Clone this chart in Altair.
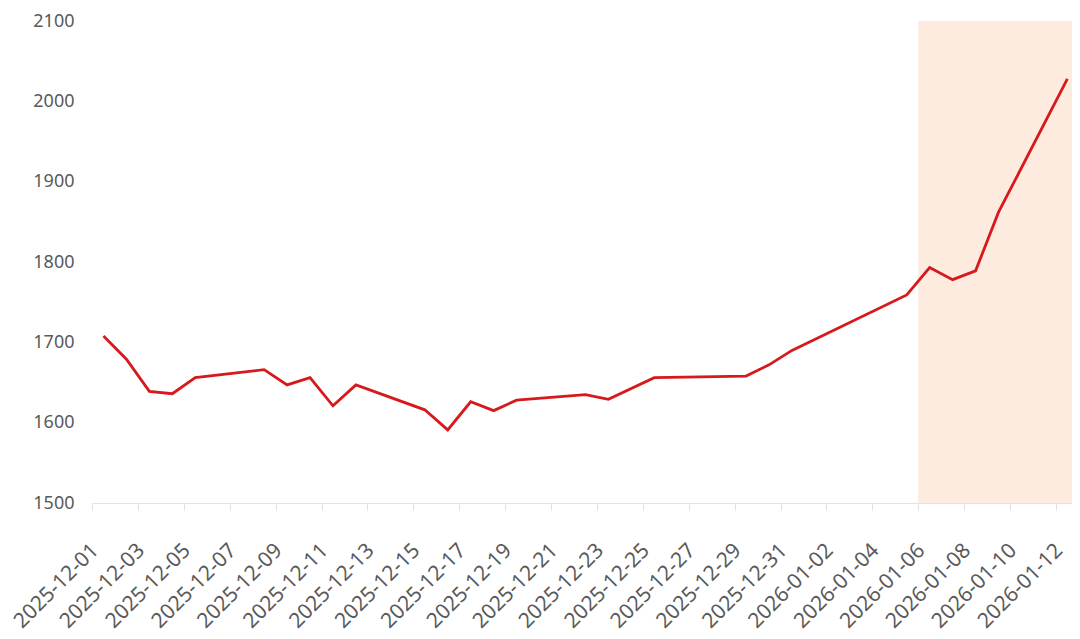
import altair as alt
import pandas as pd

# --- data ---
dates = [
    "2025-12-01", "2025-12-02", "2025-12-03", "2025-12-04", "2025-12-05",
    "2025-12-08", "2025-12-09", "2025-12-10", "2025-12-11", "2025-12-12",
    "2025-12-15", "2025-12-16", "2025-12-17", "2025-12-18", "2025-12-19",
    "2025-12-22", "2025-12-23", "2025-12-25", "2025-12-29", "2025-12-30",
    "2025-12-31", "2026-01-05", "2026-01-06", "2026-01-07", "2026-01-08",
    "2026-01-09", "2026-01-12",
]
values = [
    1708, 1679, 1639, 1636, 1656,
    1666, 1647, 1656, 1621, 1647,
    1616, 1591, 1626, 1615, 1628,
    1635, 1629, 1656, 1658, 1672,
    1690, 1759, 1793, 1778, 1789,
    1862, 2028,
]
tick_labels = [
    "2025-12-01", "2025-12-03", "2025-12-05", "2025-12-07", "2025-12-09",
    "2025-12-11", "2025-12-13", "2025-12-15", "2025-12-17", "2025-12-19",
    "2025-12-21", "2025-12-23", "2025-12-25", "2025-12-27", "2025-12-29",
    "2025-12-31", "2026-01-02", "2026-01-04", "2026-01-06", "2026-01-08",
    "2026-01-10", "2026-01-12",
]
y_ticks = [1500, 1600, 1700, 1800, 1900, 2000, 2100]
x_start, x_end = "2025-12-01T00:00", "2026-01-12T16:50"
shade_start, shade_end = "2026-01-06T00:00", "2026-01-12T16:50"
y_min, y_max = 1500, 2100

df = pd.DataFrame({"date": dates, "value": values})
shade = pd.DataFrame({"start": [shade_start], "end": [shade_end],
                      "y0": [y_min], "y1": [y_max]})


def ms(s):
    return int(pd.Timestamp(s, tz="UTC").value // 10**6)


shade["start"] = shade["start"].map(ms)
shade["end"] = shade["end"].map(ms)

x_scale = alt.Scale(type="utc", domain=[ms(x_start), ms(x_end)], nice=False)
y_scale = alt.Scale(domain=[y_min, y_max], nice=False, zero=False)

FONT = "Noto Sans"
LABEL_COLOR = "#5a5a5a"

x_axis = alt.Axis(
    values=[ms(t) for t in tick_labels],
    labelExpr="utcFormat(datum.value, '%Y-%m-%d')",
    labelAngle=-45, labelAlign="right", labelBaseline="middle", labelOffset=3,
    labelPadding=37, labelFontSize=21, labelFont=FONT, labelColor=LABEL_COLOR,
    domainColor="#e2e2e2", domainWidth=1.2, tickColor="#e2e2e2", tickSize=7,
    grid=False, title=None, labelOverlap=False, labelBound=False,
)
y_axis = alt.Axis(
    values=y_ticks, format="d", labelFontSize=18, labelFont=FONT, labelColor=LABEL_COLOR,
    domain=False, ticks=False, tickSize=0, labelPadding=18, grid=False, title=None,
)

band = alt.Chart(shade).mark_rect(color="#fdebe0").encode(
    x=alt.X("start:T", scale=x_scale, axis=x_axis),
    x2="end:T",
    y=alt.Y("y0:Q", scale=y_scale, axis=y_axis),
    y2="y1:Q",
)

line = alt.Chart(df).mark_line(color="#d7191c", strokeWidth=2.8, strokeJoin="miter").encode(
    x=alt.X("date:T", timeUnit="utcyearmonthdate", bandPosition=0.5, scale=x_scale, axis=x_axis),
    y=alt.Y("value:Q", scale=y_scale, axis=y_axis),
)

chart = alt.layer(band, line).properties(
    width=980, height=482,
    background="white",
    autosize=alt.AutoSizeParams(type="none"),
    padding={"left": 84, "top": 13, "right": 0, "bottom": 130},
).configure_view(strokeWidth=0, stroke="transparent")

chart.save("out.html", embed_options={"renderer": "svg", "actions": False})
